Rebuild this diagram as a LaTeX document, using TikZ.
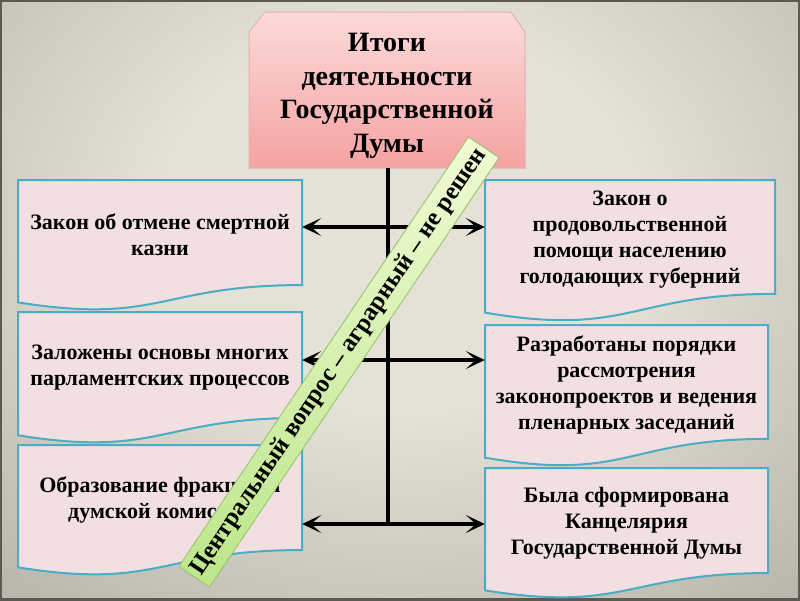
\documentclass[tikz,border=0pt]{standalone}
\usepackage{fontspec}
\setmainfont{Liberation Serif}
\usetikzlibrary{arrows.meta}

\definecolor{bginner}{HTML}{E4E2D6}
\definecolor{bgmid}{HTML}{B6B4A8}
\definecolor{bgouter}{HTML}{7E7B72}
\definecolor{framecol}{HTML}{5A5954}
\definecolor{docfill}{HTML}{F2DFE1}
\definecolor{docline}{HTML}{4BACC6}
\definecolor{titletop}{HTML}{FCDADA}
\definecolor{titlebot}{HTML}{F5A2A2}
\definecolor{titleline}{HTML}{E3B0B0}
\definecolor{bandlight}{HTML}{F0FAD4}
\definecolor{banddark}{HTML}{BCE68A}
\definecolor{bandline}{HTML}{98BE6A}

\pgfdeclareradialshading{bgshade}{\pgfpoint{0bp}{0bp}}{color(0bp)=(bginner); color(12bp)=(bginner); color(32bp)=(bgmid); color(50bp)=(bgouter)}

\newcommand{\docbox}[6]{%
  \path[docshape] (#2,#3) -- ({#2+#4},#3) -- ({#2+#4},{#3+0.802*#5})
    .. controls ({#2+0.5*#4},{#3+0.802*#5}) and ({#2+0.5*#4},{#3+1.107*#5}) .. (#2,{#3+0.934*#5}) -- cycle;
  \node (#1) [doctext, minimum width=#4pt] at ({#2+0.5*#4},{#3+0.42*#5}) {#6};}

\begin{document}
\begin{tikzpicture}[x=1pt, y=-1pt,
    doctext/.style={align=center, inner sep=0pt, font=\bfseries\fontsize{22}{26}\selectfont},
    docshape/.style={fill=docfill, draw=docline, line width=2pt},
    titleshape/.style={top color=titletop, bottom color=titlebot, draw=titleline, line width=1pt},
    titletext/.style={align=center, minimum width=276pt, minimum height=156pt, inner sep=0pt, font=\bfseries\fontsize{28}{33.5}\selectfont},
    link/.style={line width=3.2pt, -{Stealth[length=19pt,width=18pt,inset=10pt]}},
    band/.style={minimum width=518pt, minimum height=37pt, inner sep=0pt, top color=bandlight, bottom color=banddark, draw=bandline, line width=0.8pt, font=\bfseries\fontsize{25}{25}\selectfont}]
  \useasboundingbox (0,0) rectangle (800,600);
  \begin{scope}
    \clip (0,0) rectangle (800,600);
    \shade[shading=bgshade] (-100,-180) rectangle (900,620);
  \end{scope}
  \draw[framecol, line width=4pt] (0,0) rectangle (800,600);

  \path[titleshape] (265,12) -- (511,12) -- (525,32) -- (525,168) -- (249,168) -- (249,32) -- cycle;
  \node (itogi) [titletext] at (387,90) {};
  \node (itogitext) [titletext] at (387,96) {Итоги\\деятельности\\Государственной\\Думы};

  \coordinate (j1) at (388,227);
  \coordinate (j2) at (388,360);
  \coordinate (j3) at (388,524);
  \draw[line width=3.2pt] (itogi.south -| j1) -- (j3);

  \docbox{smert}{18}{180}{284}{131}{Закон об отмене смертной\\казни}
  \docbox{osnovy}{18}{312}{284}{132}{Заложены основы многих\\парламентских процессов}
  \docbox{frakcii}{18}{445}{284}{131}{Образование фракций и\\думской комиссии}
  \docbox{golod}{485}{180}{290}{142}{Закон о\\продовольственной\\помощи населению\\голодающих губерний}
  \docbox{poryadok}{485}{325}{283}{142}{Разработаны порядки\\рассмотрения\\законопроектов и ведения\\пленарных заседаний}
  \docbox{kancel}{485}{468}{283}{131}{Была сформирована\\Канцелярия\\Государственной Думы}

  \draw[link] (j1) -- (j1 -| smert.east);
  \draw[link] (j1) -- (j1 -| golod.west);
  \draw[link] (j2) -- (j2 -| osnovy.east);
  \draw[link] (j2) -- (j2 -| poryadok.west);
  \draw[link] (j3) -- (j3 -| frakcii.east);
  \draw[link] (j3) -- (j3 -| kancel.west);

  \node (agrar) [band, rotate=56] at (339,362) {Центральный вопрос – аграрный – не решен};
\end{tikzpicture}
\end{document}
